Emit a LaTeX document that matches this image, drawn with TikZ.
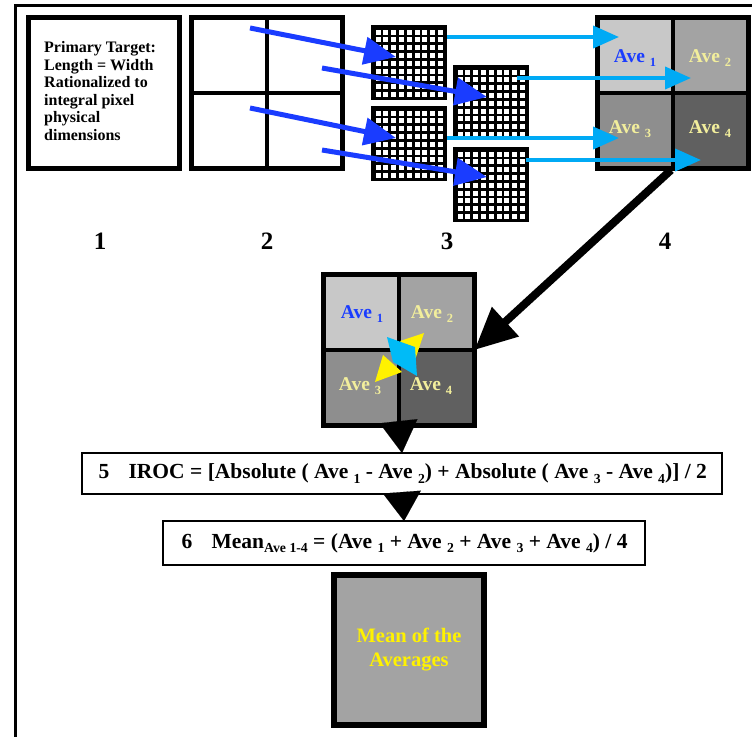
\documentclass[tikz,border=0pt]{standalone}
\usepackage{fontspec}
\setmainfont{Liberation Serif}
\usetikzlibrary{arrows.meta}
\definecolor{arrblue}{HTML}{1A3CFF}
\definecolor{arrcyan}{HTML}{00AAF5}
\definecolor{paleyel}{HTML}{F2EE9C}
\definecolor{gA}{HTML}{C8C8C8}
\definecolor{gB}{HTML}{A3A3A3}
\definecolor{gC}{HTML}{8E8E8E}
\definecolor{gD}{HTML}{606060}
\newcommand\sbx[1]{\raisebox{-0.22em}{\scalebox{0.64}{#1}}}
\newcommand\gridbx[3]{%
  \node[fill=black, inner sep=0, outer sep=0, minimum width=76, minimum height=75, anchor=north west] (#1) at (#2,#3) {};
  \foreach \i in {0,...,8} \foreach \j in {0,...,8}
    \fill[white] ({#2+4.6+\i*7.8},{#3+4.5+\j*7.8}) rectangle ++(5,5);
}
\newcommand\quadbx[3]{% name, left x, top y
  \fill[gA] (#2,#3) rectangle ++(78,78);
  \fill[gB] ({#2+78},#3) rectangle ++(78,78);
  \fill[gC] (#2,{#3+78}) rectangle ++(78,78);
  \fill[gD] ({#2+78},{#3+78}) rectangle ++(78,78);
  \node[draw, line width=5pt, inner sep=0, outer sep=0, minimum size=151, anchor=north west] (#1) at ({#2+2.5},{#3+2.5}) {};
  \draw[line width=4pt] (#1.north) -- (#1.south);
  \draw[line width=4pt] (#1.west) -- (#1.east);
}
\begin{document}
\begin{tikzpicture}[x=1pt,y=-1pt,
  thickbox/.style={draw, line width=5pt, inner sep=0, outer sep=0, minimum size=151},
  fbox/.style={draw, line width=2pt, inner sep=0, outer sep=0},
  numlbl/.style={font=\bfseries\fontsize{25}{25}\selectfont},
  avetxt/.style={font=\bfseries\fontsize{19.5}{19.5}\selectfont, inner sep=0},
  formtxt/.style={font=\bfseries\fontsize{21.5}{21.5}\selectfont},
  bluearr/.style={arrblue, line width=5pt, -{Triangle[length=32pt,width=27pt]}},
  cyanarr/.style={arrcyan, line width=4pt, -{Triangle[length=26pt,width=22pt]}},
  downtri/.style={line width=0.1pt, -{Triangle[length=#1,width=38pt]}}
]
\useasboundingbox (0,0) rectangle (752,736);
% outer frame (cropped)
\draw[line width=3pt] (15,737) -- (15,5.5) -- (753,5.5);

% box 1
\node[thickbox] (b1) at (104,92.5) {};
\node[anchor=west, align=left, inner sep=0, font=\bfseries\fontsize{16}{17.6}\selectfont] (t1) at (44,91) {Primary Target:\\Length = Width\\Rationalized to\\integral pixel\\physical\\dimensions};

% box 2
\node[thickbox] (b2) at (267,92.5) {};
\draw[line width=4pt] (b2.north) -- (b2.south);
\draw[line width=4pt] (b2.west) -- (b2.east);

% grid boxes
\gridbx{g1}{371}{25}
\gridbx{g2}{453}{65}
\gridbx{g3}{371}{106}
\gridbx{g4}{453}{147}

% box 4
\quadbx{b4}{595}{15}
\node[avetxt, text=arrblue] (a41) at (635,58) {Ave \sbx{1}};
\node[avetxt, text=paleyel] (a42) at (710,58) {Ave \sbx{2}};
\node[avetxt, text=paleyel] (a43) at (630,129) {Ave \sbx{3}};
\node[avetxt, text=paleyel] (a44) at (710,129) {Ave \sbx{4}};

% labels
\node[numlbl] (n1) at (100,241) {1};
\node[numlbl] (n2) at (267,241) {2};
\node[numlbl] (n3) at (447,241) {3};
\node[numlbl] (n4) at (665,241) {4};

% blue arrows
\coordinate (s1) at (250,28);
\coordinate (s2) at (322,68);
\coordinate (s3) at (250,108);
\coordinate (s4) at (322,150);
\coordinate (e1) at (396,57);
\coordinate (e2) at (487,97);
\coordinate (e3) at (396,138);
\coordinate (e4) at (487,177);
\draw[bluearr] (s1) -- (e1);
\draw[bluearr] (s2) -- (e2);
\draw[bluearr] (s3) -- (e3);
\draw[bluearr] (s4) -- (e4);

% cyan arrows
\coordinate (c1s) at (447,37);
\coordinate (c2s) at (517,78);
\coordinate (c3s) at (447,138);
\coordinate (c4s) at (526,160);
\coordinate (c1e) at (619,37);
\coordinate (c2e) at (691,78);
\coordinate (c3e) at (619,138);
\coordinate (c4e) at (701,160);
\draw[cyanarr] (c1s) -- (c1e);
\draw[cyanarr] (c2s) -- (c2e);
\draw[cyanarr] (c3s) -- (c3e);
\draw[cyanarr] (c4s) -- (c4e);

% box 5
\quadbx{b5}{321}{272}
\node[avetxt, text=arrblue] (a51) at (362,314) {Ave \sbx{1}};
\node[avetxt, text=paleyel] (a52) at (432,314) {Ave \sbx{2}};
\node[avetxt, text=paleyel] (a53) at (360,386) {Ave \sbx{3}};
\node[avetxt, text=paleyel] (a54) at (431,386) {Ave \sbx{4}};
% crossing arrow marks
\fill[yellow] (424,333) -- (400,341) -- (415,360) -- cycle;
\fill[yellow] (375,382) -- (383,355) -- (402,372) -- cycle;
\fill[arrcyan!80!cyan] (387,337) -- (415,347) -- (417,376) -- (393,362) -- cycle;

% big black arrow
\coordinate (k1) at (671,170);
\draw[line width=8pt, -{Triangle[length=42pt,width=38pt]}] (k1) -- (b5.east);

% formula boxes
\node[fbox, minimum width=640, minimum height=41] (f5) at (402,473.5) {};
\node[formtxt, anchor=west] (f5t) at (95,473.5) {5\hspace{0.9em}IROC = [Absolute ( Ave \sbx{1} - Ave \sbx{2}) + Absolute ( Ave \sbx{3} - Ave \sbx{4})] / 2};
\node[fbox, minimum width=482, minimum height=44] (f6) at (404,543) {};
\node[formtxt, anchor=west] (f6t) at (178,543) {6\hspace{0.9em}Mean\sbx{Ave 1-4} = (Ave \sbx{1} + Ave \sbx{2} + Ave \sbx{3} + Ave \sbx{4}) / 4};

\draw[downtri=32pt] (b5.south) -- (f5.north);
\draw[downtri=29pt] (f5.south) -- (f6.north);

% mean box
\node[draw, fill=gB, line width=6pt, inner sep=0, outer sep=0, minimum size=150, align=center, text=yellow, font=\bfseries\fontsize{20.5}{24}\selectfont] (mb) at (409,650) {Mean of the\\Averages};
\end{tikzpicture}
\end{document}
